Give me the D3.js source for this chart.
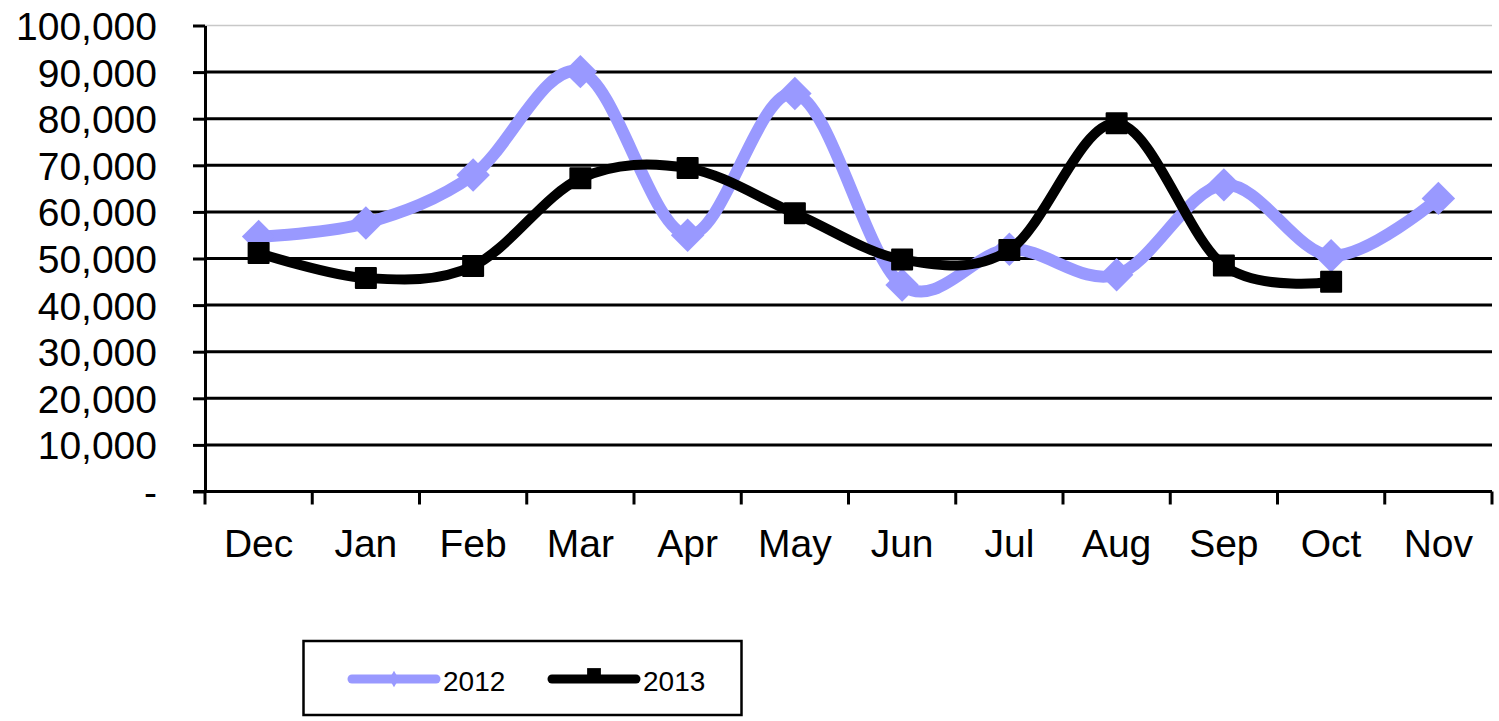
<!DOCTYPE html>
<html>
<head>
<meta charset="utf-8">
<script src="https://cdn.jsdelivr.net/npm/d3@7"></script>
<style>
  body { margin: 0; background: #fff; }
  svg { display: block; font-family: "Liberation Sans", Arial, sans-serif; }
</style>
</head>
<body>
<div id="chartDiv"></div>
<script>
// data
const months = ["Dec", "Jan", "Feb", "Mar", "Apr", "May", "Jun", "Jul", "Aug", "Sep", "Oct", "Nov"];
const values2012 = [54700, 57600, 67900, 90100, 55000, 85400, 44300, 52000, 46500, 65800, 50600, 62900];
const values2013 = [51200, 45800, 48400, 67200, 69400, 59700, 49800, 51800, 79000, 48500, 45000, null];
const yTicks = [0, 10000, 20000, 30000, 40000, 50000, 60000, 70000, 80000, 90000, 100000];

const W = 1499, H = 721;
const margin = { top: 25.5, right: 7, bottom: 229.5, left: 205 };

const svg = d3.select("#chartDiv")
    .append("svg")
    .attr("width", W)
    .attr("height", H);

const x = d3.scaleBand()
    .domain(months)
    .range([margin.left, W - margin.right])
    .padding(0);

const y = d3.scaleLinear()
    .domain([0, 100000])
    .range([H - margin.bottom, margin.top]);

const fmt = d => d === 0 ? "-" : d3.format(",")(d);

// gridlines
svg.append("g")
    .selectAll("line")
    .data(yTicks.filter(d => d > 0))
    .enter()
    .append("line")
    .attr("x1", margin.left)
    .attr("x2", W - margin.right)
    .attr("y1", d => y(d))
    .attr("y2", d => y(d))
    .style("stroke", d => d === 100000 ? "#c8c8c8" : "#000")
    .style("stroke-width", d => d === 100000 ? 1.5 : 3);

// y axis
const yAxis = svg.append("g")
    .attr("transform", "translate(" + margin.left + ",0)")
    .call(d3.axisLeft(y).tickValues(yTicks).tickFormat(fmt).tickSize(12).tickSizeOuter(0).tickPadding(36));
yAxis.select(".domain").style("stroke-width", 3);
yAxis.selectAll(".tick line").style("stroke-width", 3);
yAxis.selectAll("text")
    .style("font-size", "39px")
    .style("font-family", "'Liberation Sans', Arial, sans-serif")
    .attr("fill", "#000")
    .attr("dy", "0.36em");

// x axis: ticks on band boundaries
const xAxisG = svg.append("g")
    .attr("transform", "translate(0," + y(0) + ")");
xAxisG.append("line")
    .attr("x1", margin.left - 12)
    .attr("x2", W - margin.right)
    .style("stroke", "#000")
    .style("stroke-width", 3);
const bounds = months.map(m => x(m)).concat([x(months[months.length - 1]) + x.bandwidth()]);
xAxisG.selectAll("line.tk")
    .data(bounds)
    .enter()
    .append("line")
    .attr("class", "tk")
    .attr("x1", d => d)
    .attr("x2", d => d)
    .attr("y1", 0)
    .attr("y2", 13)
    .style("stroke", "#000")
    .style("stroke-width", 3);
xAxisG.selectAll("text")
    .data(months)
    .enter()
    .append("text")
    .attr("x", d => x(d) + x.bandwidth() / 2)
    .attr("y", 65)
    .attr("text-anchor", "middle")
    .style("font-size", "39px")
    .text(d => d);

const cx = (d, i) => x(months[i]) + x.bandwidth() / 2;

const line = d3.line()
    .defined(d => d != null)
    .x(cx)
    .y(d => y(d))
    .curve(d3.curveCardinal.tension(0));

const blue = "#9999ff";

// 2012 series
svg.append("path")
    .datum(values2012)
    .attr("d", line)
    .style("fill", "none")
    .style("stroke", blue)
    .style("stroke-width", 12)
    .style("stroke-linejoin", "round");
svg.append("g")
    .selectAll("path")
    .data(values2012)
    .enter()
    .append("path")
    .attr("d", d3.symbol().type(d3.symbolSquare).size(560))
    .attr("transform", (d, i) => "translate(" + cx(d, i) + "," + y(d) + ") rotate(45)")
    .style("fill", blue);

// 2013 series
const data2013 = values2013;
svg.append("path")
    .datum(data2013)
    .attr("d", line)
    .style("fill", "none")
    .style("stroke", "#000")
    .style("stroke-width", 10)
    .style("stroke-linejoin", "round");
svg.append("g")
    .selectAll("path")
    .data(data2013.map((d, i) => ({ v: d, i: i })).filter(d => d.v != null))
    .enter()
    .append("path")
    .attr("d", d3.symbol().type(d3.symbolSquare).size(400))
    .attr("transform", d => "translate(" + cx(d.v, d.i) + "," + y(d.v) + ")")
    .style("fill", "#000")
    .style("stroke", "#000")
    .style("stroke-width", 2)
    .style("stroke-linejoin", "round");

// legend
const legend = svg.append("g");
legend.append("rect")
    .attr("x", 303.5)
    .attr("y", 641)
    .attr("width", 438)
    .attr("height", 74)
    .style("fill", "#fff")
    .style("stroke", "#000")
    .style("stroke-width", 2.5);

const legendItems = [
    { name: "2012", color: blue, x0: 352, marker: "diamond" },
    { name: "2013", color: "#000", x0: 552, marker: "square" }
];
const li = legend.selectAll("g.item")
    .data(legendItems)
    .enter()
    .append("g")
    .attr("class", "item");
li.append("line")
    .attr("x1", d => d.x0)
    .attr("x2", d => d.x0 + 84)
    .attr("y1", 679)
    .attr("y2", 679)
    .style("stroke", d => d.color)
    .style("stroke-width", 9)
    .style("stroke-linecap", "round");
li.append("path")
    .attr("d", d => d.marker === "diamond"
        ? d3.symbol().type(d3.symbolDiamond).size(80)()
        : d3.symbol().type(d3.symbolSquare).size(190)())
    .attr("transform", d => d.marker === "diamond"
        ? "translate(" + (d.x0 + 42) + ",679)"
        : "translate(" + (d.x0 + 42) + ",675)")
    .style("fill", d => d.color);
li.append("text")
    .attr("x", d => d.x0 + 91)
    .attr("y", 691)
    .style("font-size", "28px")
    .text(d => d.name);
</script>
</body>
</html>
